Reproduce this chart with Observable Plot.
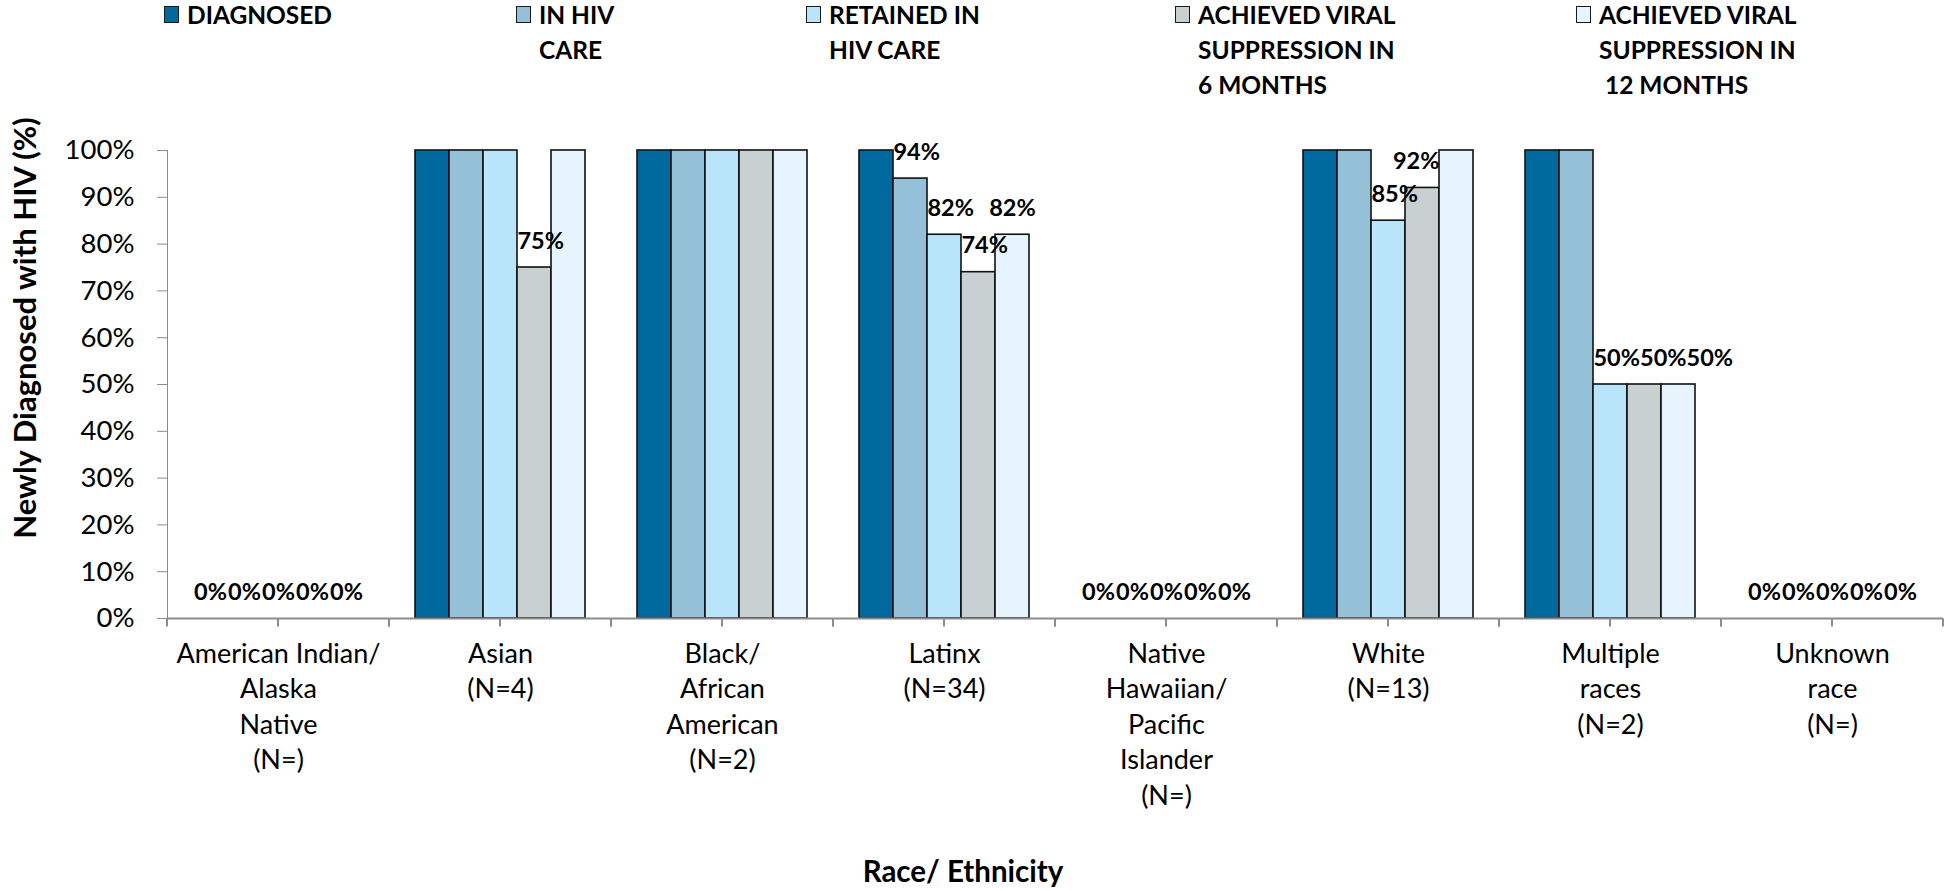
<!DOCTYPE html>
<html>
<head>
<meta charset="utf-8">
<script src="https://cdn.jsdelivr.net/npm/d3@7"></script>
<script src="https://cdn.jsdelivr.net/npm/@observablehq/plot@0.6"></script>
<style>
  html, body { margin: 0; padding: 0; background: #fff; }
  #wrap { position: relative; width: 1951px; height: 891px; overflow: hidden; font-family: Lato, "Open Sans", sans-serif; color: #000; }
  #chart { position: absolute; left: 0; top: 0; }
  #chart svg text { fill: #000; }
  #chart svg g[aria-label="category labels"] text { letter-spacing: 0.8px; }
  .leg { position: absolute; font-weight: 700; font-size: 24.5px; line-height: 30px; white-space: pre; }
  .sw { position: absolute; top: 6px; width: 13px; height: 15px; border: 1.5px solid #1a1a1a; }
  #ytitle { position: absolute; left: 24px; top: 328px; transform: translate(-50%, -50%) rotate(-90deg); font-weight: 700; font-size: 31px; white-space: nowrap; line-height: 36px; }
  #xtitle { position: absolute; left: 963px; top: 853px; transform: translateX(-50%); font-weight: 700; font-size: 29.5px; white-space: nowrap; line-height: 36px; }
</style>
</head>
<body>
<div id="wrap">
  <div id="chart"></div>
  <div id="legend"></div>
  <div id="ytitle">Newly Diagnosed with HIV (%)</div>
  <div id="xtitle">Race/ Ethnicity</div>
</div>
<script>
// ---- data ----
const categories = [
  "American Indian/ Alaska Native",
  "Asian",
  "Black/ African American",
  "Latinx",
  "Native Hawaiian/ Pacific Islander",
  "White",
  "Multiple races",
  "Unknown race"
];
const categoryTickLabels = [
  "American Indian/\nAlaska\nNative\n(N=)",
  "Asian\n(N=4)",
  "Black/\nAfrican\nAmerican\n(N=2)",
  "Latinx\n(N=34)",
  "Native\nHawaiian/\nPacific\nIslander\n(N=)",
  "White\n(N=13)",
  "Multiple\nraces\n(N=2)",
  "Unknown\nrace\n(N=)"
];
const seriesNames = [
  "DIAGNOSED",
  "IN HIV CARE",
  "RETAINED IN HIV CARE",
  "ACHIEVED VIRAL SUPPRESSION IN 6 MONTHS",
  "ACHIEVED VIRAL SUPPRESSION IN 12 MONTHS"
];
const legendLines = [
  ["DIAGNOSED"],
  ["IN HIV", "CARE"],
  ["RETAINED IN", "HIV CARE"],
  ["ACHIEVED VIRAL", "SUPPRESSION IN", "6 MONTHS"],
  ["ACHIEVED VIRAL", "SUPPRESSION IN", " 12 MONTHS"]
];
const seriesColors = ["#006A9E", "#94C0D8", "#B8E5FA", "#C9D0D2", "#E6F5FD"];

const diagnosed     = [0, 100, 100, 100, 0, 100, 100, 0];
const inHivCare     = [0, 100, 100,  94, 0, 100, 100, 0];
const retainedCare  = [0, 100, 100,  82, 0,  85,  50, 0];
const suppressed6m  = [0,  75, 100,  74, 0,  92,  50, 0];
const suppressed12m = [0, 100, 100,  82, 0, 100,  50, 0];

const yTicks = [0, 10, 20, 30, 40, 50, 60, 70, 80, 90, 100];

// ---- layout (not data) ----
const legendX = [164, 516, 806, 1175, 1576];
const axisGray = "#8c8c8c";
const labelSize = 23.5;
const labelDy = -19;

const seriesValues = [diagnosed, inHivCare, retainedCare, suppressed6m, suppressed12m];
const rows = categories.flatMap((c, i) =>
  seriesNames.map((s, j) => ({category: c, series: s, value: seriesValues[j][i]}))
);
const labelRows = rows.filter(d => d.value < 100);

// x-axis ticks at category edges and centres, drawn from the scales
function xAxisTicks(index, scales, values, dimensions, context, next) {
  const g = next(index, scales, values, dimensions, context);
  const [a, b] = scales.x.range();
  const y0 = scales.y(0);
  for (const x of [a, (a + b) / 2, b]) {
    const t = context.document.createElementNS("http://www.w3.org/2000/svg", "line");
    t.setAttribute("x1", x); t.setAttribute("x2", x);
    t.setAttribute("y1", y0); t.setAttribute("y2", y0 + 8);
    t.setAttribute("stroke", axisGray); t.setAttribute("stroke-width", 2);
    g.appendChild(t);
  }
  return g;
}

// keep data labels clear of taller neighbouring bars and of each other (as Excel does)
function placeLabels(index, scales, values, dimensions, context, next) {
  if (!values.x || !values.text) return next(index, scales, values, dimensions, context);
  const X = Float64Array.from(values.x);
  const Y = values.y, T = values.text;
  const ctx = context.document.createElement("canvas").getContext("2d");
  ctx.font = `700 ${labelSize}px Lato`;
  const xs = scales.x, ys = scales.y, bw = xs.bandwidth();
  const W = new Map();
  for (const i of index) {
    const d = labelRows[i];
    const w = ctx.measureText(T[i]).width;
    W.set(i, w);
    const c = categories.indexOf(d.category), s = seriesNames.indexOf(d.series);
    const center = xs(d.series) + bw / 2;
    const bottom = ys(d.value) + labelDy + 2;
    let target = center;
    if (s > 0 && ys(seriesValues[s - 1][c]) < bottom) {
      target = Math.max(center, xs(seriesNames[s - 1]) + bw + w / 2);
    } else if (s < seriesNames.length - 1 && ys(seriesValues[s + 1][c]) < bottom) {
      target = Math.min(center, xs(seriesNames[s + 1]) - w / 2);
    }
    X[i] += target - center;
  }
  const order = Array.from(index).sort((a, b) => X[a] - X[b]);
  for (let k = 1; k < order.length; k++) {
    const i = order[k - 1], j = order[k];
    if (Math.abs(Y[i] - Y[j]) > labelSize) continue;
    const need = (W.get(i) + W.get(j)) / 2;
    if (X[j] - X[i] < need) X[j] = X[i] + need;
  }
  return next(index, scales, {...values, x: X}, dimensions, context);
}

const chart = Plot.plot({
  width: 1951,
  height: 891,
  marginLeft: 163,
  marginRight: 5,
  marginTop: 150,
  marginBottom: 273,
  style: {fontFamily: "Lato, 'Open Sans', sans-serif", fontSize: "27.5px", color: axisGray, background: "transparent", overflow: "visible"},
  fx: {domain: categories, padding: 0, axis: null, label: null},
  x: {domain: seriesNames, paddingInner: 0, paddingOuter: 0.74, axis: null, label: null},
  y: {domain: [0, 100], ticks: yTicks, tickFormat: d => d + "%", tickSize: 10, tickPadding: 23, line: true, label: null},
  color: {domain: seriesNames, range: seriesColors},
  marks: [
    Plot.barY(rows, {fx: "category", x: "series", y: "value", fill: "series", stroke: "#111", strokeWidth: 1.6}),
    Plot.ruleY([0], {stroke: axisGray, strokeWidth: 2, render: xAxisTicks}),
    Plot.text(labelRows, {
      fx: "category", x: "series", y: "value", text: d => d.value + "%",
      lineAnchor: "bottom", dy: labelDy, fontSize: labelSize, fontWeight: 700, fill: "#000",
      render: placeLabels
    }),
    Plot.text(categories, {
      fx: d => d, text: (d, i) => categoryTickLabels[i],
      frameAnchor: "bottom", lineAnchor: "top", dy: 19, lineHeight: 1.315,
      fontSize: 27, fill: "#000", ariaLabel: "category labels"
    })
  ]
});
document.getElementById("chart").appendChild(chart);

// legend
const legend = document.getElementById("legend");
seriesNames.forEach((s, i) => {
  const sw = document.createElement("div");
  sw.className = "sw";
  sw.style.left = legendX[i] + "px";
  sw.style.background = seriesColors[i];
  legend.appendChild(sw);
  legendLines[i].forEach((line, k) => {
    const t = document.createElement("div");
    t.className = "leg";
    t.style.left = (legendX[i] + 23) + "px";
    t.style.top = (k * 35) + "px";
    t.textContent = line;
    legend.appendChild(t);
  });
});
</script>
</body>
</html>
